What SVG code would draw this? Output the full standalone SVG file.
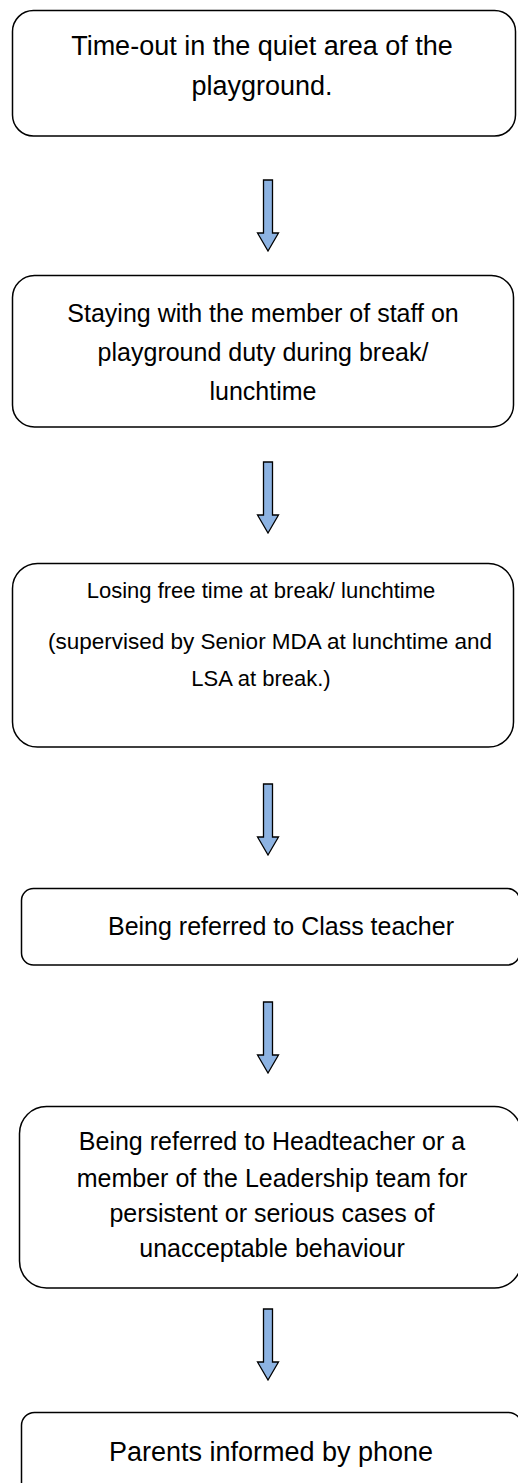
<svg xmlns="http://www.w3.org/2000/svg" width="518" height="1483" viewBox="0 0 518 1483">
<style>
.box{fill:#ffffff;stroke:#000000;stroke-width:1.5}
.t{font-family:"Liberation Sans",Arial,sans-serif;fill:#000000;text-anchor:middle}
.arrow{fill:#8DB3E2;stroke:#000000;stroke-width:1.3;stroke-linejoin:miter}
</style>
<defs>
<path id="arr" d="M-4.5,0 H4.5 V53 H10.5 L0,71 L-10.5,53 H-4.5 Z"/>
</defs>
<rect width="518" height="1483" fill="#ffffff"/>
<g id="n1">
<rect class="box" x="12.5" y="10.5" width="503" height="125.5" rx="21"/>
<text class="t" font-size="27" x="262" y="55">Time-out in the quiet area of the</text>
<text class="t" font-size="27" x="262" y="95">playground.</text>
</g>
<g id="n2">
<rect class="box" x="12.5" y="275.5" width="501" height="151.5" rx="22"/>
<text class="t" font-size="25" x="263" y="322">Staying with the member of staff on</text>
<text class="t" font-size="25" x="263" y="361">playground duty during break/</text>
<text class="t" font-size="25" x="263" y="400">lunchtime</text>
</g>
<g id="n3">
<rect class="box" x="12.5" y="563.5" width="501" height="183.5" rx="25"/>
<text class="t" font-size="22" x="261" y="598">Losing free time at break/ lunchtime</text>
<text class="t" font-size="22.5" x="270" y="649">(supervised by Senior MDA at lunchtime and</text>
<text class="t" font-size="22" x="261" y="686">LSA at break.)</text>
</g>
<g id="n4">
<rect class="box" x="21.5" y="888.5" width="498" height="76.5" rx="12"/>
<text class="t" font-size="25" x="281" y="935">Being referred to Class teacher</text>
</g>
<g id="n5">
<rect class="box" x="19.5" y="1106.5" width="502" height="181.5" rx="27"/>
<text class="t" font-size="25" x="272" y="1150">Being referred to Headteacher or a</text>
<text class="t" font-size="25" x="272" y="1187">member of the Leadership team for</text>
<text class="t" font-size="25" x="272" y="1222">persistent or serious cases of</text>
<text class="t" font-size="25" x="272" y="1257">unacceptable behaviour</text>
</g>
<g id="n6">
<rect class="box" x="21.5" y="1412.5" width="500" height="100" rx="13"/>
<text class="t" font-size="27" x="271" y="1461">Parents informed by phone</text>
</g>
<g id="connectors">
<use href="#arr" class="arrow" transform="translate(268,180)"/>
<use href="#arr" class="arrow" transform="translate(268,462)"/>
<use href="#arr" class="arrow" transform="translate(268,784)"/>
<use href="#arr" class="arrow" transform="translate(268,1002)"/>
<use href="#arr" class="arrow" transform="translate(268,1309)"/>
</g>
</svg>
